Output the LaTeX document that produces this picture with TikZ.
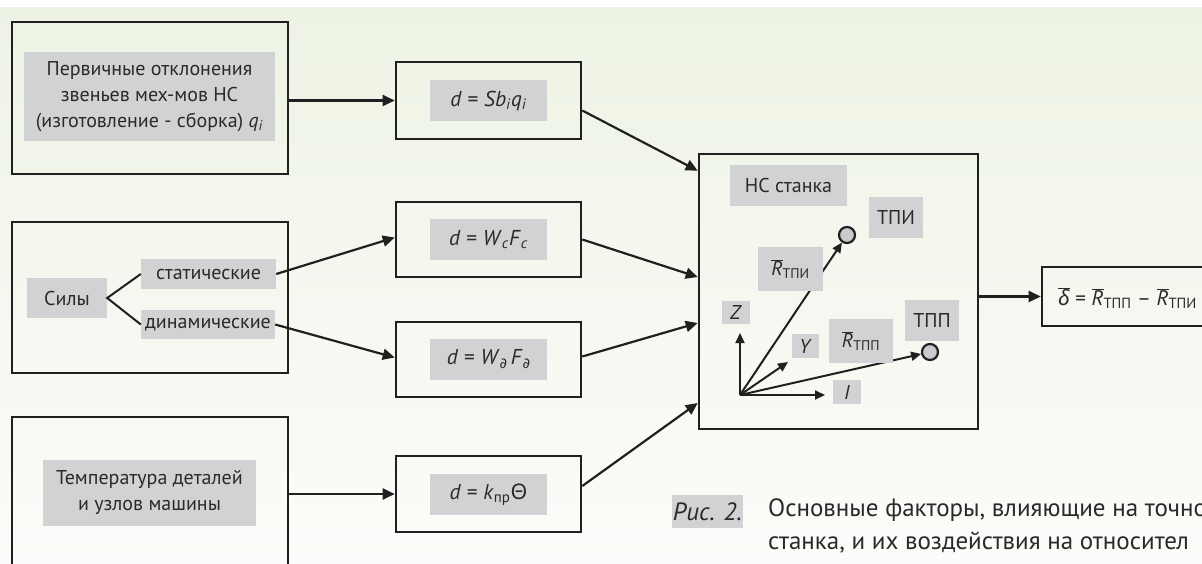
\documentclass[tikz,border=0pt]{standalone}
\usepackage{fontspec}
\setmainfont{PT Sans}
\newfontfamily\gk{Noto Sans}
\newfontfamily\dv{DejaVu Sans}
\usetikzlibrary{arrows.meta,calc}
\definecolor{bgtop}{HTML}{EDF3E4}
\definecolor{bgbot}{HTML}{FCFCFA}
\definecolor{lbl}{HTML}{D1D2D4}
\definecolor{ink}{HTML}{231F20}
\definecolor{txt}{HTML}{2A2A2A}
\definecolor{ptfill}{HTML}{C9CACC}
\newcommand\sbt[1]{\textsubscript{#1}}
\newcommand\Rbar{\ensuremath{\overline{\mbox{\itshape R}}}}
\newcommand\dpart{{\dv\itshape\fontsize{14.5}{14}\selectfont ∂}}
\tikzset{
  frame/.style={draw=ink,line width=2.6pt,inner sep=0pt},
  lab/.style={fill=lbl,text=txt,inner sep=0pt,align=center,font=\fontsize{20}{26}\selectfont},
  flab/.style={lab,font=\fontsize{21.5}{26}\selectfont},
  arr/.style={draw=ink,line width=2.2pt,-{Triangle[length=12pt,width=11pt]}},
  varr/.style={draw=ink,line width=2pt,-{Triangle[length=10pt,width=9pt]}},
  ln/.style={draw=ink,line width=2pt},
  pt/.style={circle,draw=ink,line width=2.2pt,fill=ptfill,minimum size=16pt,inner sep=0pt}
}
\begin{document}
\begin{tikzpicture}[x=1pt,y=-1pt]
\clip (0,0) rectangle (1202,563);
\fill[white] (0,0) rectangle (1202,563);
\shade[top color=bgtop,bottom color=bgbot] (0,7) rectangle (1202,563);
% left frames
\node[frame,minimum width=276pt,minimum height=152pt] (fa) at (150,98) {};
\node[lab,minimum width=251pt,minimum height=89pt] (la) at (149.5,96.5) {Первичные отклонения\\звеньев мех-мов НС\\(изготовление - сборка) \textit{q}\sbt{\textit{i}}};
\node[frame,minimum width=276pt,minimum height=151pt] (ff) at (150,297.5) {};
\node[lab,minimum width=80pt,minimum height=40pt] (sily) at (67,298) {Силы};
\node[lab,minimum width=135pt,minimum height=30pt] (stat) at (208.5,274) {статические};
\node[lab,minimum width=134pt,minimum height=29pt] (dyn) at (208,324.5) {динамические};
\node[frame,minimum width=276pt,minimum height=300pt] (ft) at (150,567) {};
\node[lab,minimum width=213pt,minimum height=66pt] (lt) at (149.5,493) {Температура деталей\\и узлов машины};
% formula frames
\node[frame,minimum width=185pt,minimum height=77pt] (fb) at (488.5,100.5) {};
\node[flab,minimum width=117pt,minimum height=41pt] (lb) at (488.5,100.5) {\textit{d} = \textit{Sb}\sbt{\textit{i}}\textit{q}\sbt{\textit{i}}};
\node[frame,minimum width=185pt,minimum height=75pt] (fc) at (488.5,239.5) {};
\node[flab,minimum width=117pt,minimum height=41pt] (lc) at (488.5,239.5) {\textit{d} = \textit{W}\sbt{\textit{c}}\textit{F}\sbt{\textit{c}}};
\node[frame,minimum width=185pt,minimum height=75pt] (fd) at (488.5,359.5) {};
\node[flab,minimum width=117pt,minimum height=41pt] (ld) at (488.5,359.5) {\textit{d} = \textit{W}\raisebox{-4pt}{\dpart}\,\textit{F}\raisebox{-4pt}{\dpart}};
\node[frame,minimum width=185pt,minimum height=76pt] (fe) at (488.5,494) {};
\node[flab,minimum width=117pt,minimum height=41pt] (le) at (488.5,494.5) {\textit{d} = \textit{k}\sbt{пр}{\gk Θ}};
% NC frame
\node[frame,minimum width=279pt,minimum height=275pt] (nc) at (838.5,291.5) {};
% delta frame
\node[frame,minimum width=200pt,minimum height=59pt] (fdel) at (1142,296.5) {};
\node[anchor=west,text=txt,inner sep=0pt,font=\fontsize{21}{26}\selectfont] (ldel) at (1058,298) {$\overline{\mbox{\gk\itshape δ}}$ = \Rbar\sbt{ТПП} – \Rbar\sbt{ТПИ}};
% connectors left
\draw[arr] (fa.east |- fb.west) -- (fb.west);
\draw[ln] (stat.west) -- (sily.east) -- (dyn.west);
\draw[arr] (stat.east) -- ($(fc.west)+(0,-2)$);
\draw[arr] (dyn.east) -- ($(fd.west)+(0,-2)$);
\draw[arr] (ft.east |- fe.west) -- (fe.west);
% into NC
\draw[arr] ($(fb.east)+(0,10)$) -- ($(nc.north west)+(0,18)$);
\draw[arr] (fc.east) -- ($(nc.west)+(0,-14.5)$);
\draw[arr] ($(fd.east)+(0,-3)$) -- ($(nc.west)+(0,31.5)$);
\draw[arr] ($(fe.east)+(0,-8)$) -- ($(nc.west)+(0,111.5)$);
\draw[arr] (nc.east |- fdel.west) -- (fdel.west);
% inside NC
\coordinate (O) at (740,395);
\coordinate (zend) at (740,333);
\coordinate (iend) at (825,395);
\coordinate (yend) at (788,362);
\node[pt] (tpi) at (847,235) {};
\node[pt] (tpp) at (930,352) {};
\draw[varr] (O) -- (zend);
\draw[varr] (O) -- (iend);
\draw[varr] (O) -- (yend);
\draw[varr] (O) -- (tpi);
\draw[varr] (O) -- (tpp);
\node[lab,minimum width=117pt,minimum height=41pt] (lnc) at (788.5,185.5) {НС станка};
\node[lab,minimum width=54pt,minimum height=41pt] (ltpi) at (896,217.5) {ТПИ};
\node[lab,minimum width=65pt,minimum height=44pt] (lrtpi) at (790.5,269) {\Rbar\sbt{ТПИ}};
\node[lab,minimum width=28pt,minimum height=23pt] (lz) at (736,312.5) {\textit{Z}};
\node[lab,minimum width=27pt,minimum height=24pt] (ly) at (805.5,346) {\textit{Y}};
\node[lab,minimum width=64pt,minimum height=44pt] (lrtpp) at (861,341) {\Rbar\sbt{ТПП}};
\node[lab,minimum width=54pt,minimum height=41pt] (ltpp) at (932,320.5) {ТПП};
\node[lab,minimum width=28pt,minimum height=24pt] (li) at (847,392) {\textit{I}};
% caption
\node[lab,minimum width=71pt,minimum height=33pt,font=\fontsize{25}{33}\selectfont\itshape] (ris) at (707.5,511.5) {Рис. 2.};
\node[anchor=north west,text=txt,inner sep=0pt,align=left,font=\fontsize{25}{33}\selectfont] (cap) at (768,498) {Основные факторы, влияющие на точно\\станка, и их воздействия на относител};
\end{tikzpicture}
\end{document}
